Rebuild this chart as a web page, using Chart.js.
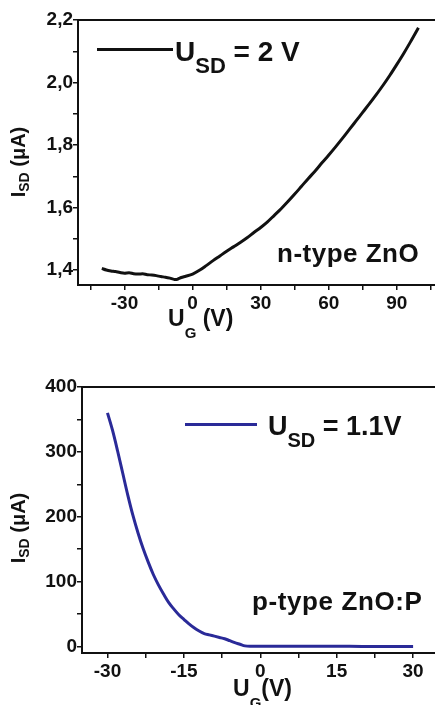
<!DOCTYPE html>
<html>
<head>
<meta charset="utf-8">
<script src="https://cdn.jsdelivr.net/npm/chart.js@4.4.1/dist/chart.umd.min.js"></script>
<style>
    body { margin: 0; background: #fff; }
    #wrap { position: relative; width: 435px; height: 705px; overflow: hidden; background: #fff; }
    canvas { position: absolute; left: 0; }
    .txt { position: absolute; font-family: "Liberation Sans", Arial, sans-serif; font-weight: bold; color: #111; line-height: 1; white-space: nowrap; }
    .sub { position: relative; }
    .key { position: absolute; }
    .rot { transform: translate(-50%, -50%) rotate(-90deg); }
</style>
</head>
<body>
<div id="wrap">
    <canvas id="chartTop" width="435" height="350" style="top:0"></canvas>
    <canvas id="chartBottom" width="435" height="355" style="top:350px"></canvas>

    <!-- panel arriba: n-type -->
    <div class="key" style="left:97px; top:48px; width:76px; height:3px; background:#111"></div>
    <div class="txt" style="left:175px; top:38px; font-size:28px">U<span class="sub" style="font-size:22px; top:12px">SD</span> = 2 V</div>
    <div class="txt" style="left:277px; top:240px; font-size:26px; letter-spacing:0.5px">n-type ZnO</div>
    <div class="txt" style="left:168px; top:307px; font-size:23px">U<span class="sub" style="font-size:15px; top:12px">G</span>&nbsp;(V)</div>
    <div class="txt rot" style="left:18px; top:162px; font-size:20px">I<span class="sub" style="font-size:14px; top:4px">SD</span> (μA)</div>

    <!-- panel abajo: p-type -->
    <div class="key" style="left:185px; top:423px; width:72px; height:3px; background:#2a2a98"></div>
    <div class="txt" style="left:268px; top:413px; font-size:27px">U<span class="sub" style="font-size:20px; top:12px">SD</span> = 1.1V</div>
    <div class="txt" style="left:252px; top:588px; font-size:26px; letter-spacing:0.6px">p-type ZnO:P</div>
    <div class="txt" style="left:233px; top:677px; font-size:23px">U<span class="sub" style="font-size:15px; top:12px">G</span>(V)</div>
    <div class="txt rot" style="left:18px; top:528px; font-size:20px">I<span class="sub" style="font-size:14px; top:4px">SD</span> (μA)</div>
</div>

<script>
// n-type ZnO, U_SD = 2 V
const ugTop = [-40, -38, -36, -34, -32, -30, -28, -26, -24, -22, -20, -18, -16, -14, -12, -10, -8, -7, -6, -5, -3,
    0, 3, 6, 9, 12, 15, 18, 21, 24, 27, 30, 33, 36, 39, 42, 45, 48, 51, 54, 57, 60, 63, 66, 69, 72, 75, 78, 81,
    84, 87, 90, 93, 96, 99.5];
const isdTop = [1.405, 1.400, 1.397, 1.395, 1.392, 1.390, 1.391, 1.388, 1.387, 1.388, 1.385, 1.384, 1.382, 1.379,
    1.377, 1.374, 1.370, 1.370, 1.373, 1.376, 1.380,
    1.387, 1.399, 1.414, 1.430, 1.445, 1.460, 1.474, 1.488, 1.503, 1.520, 1.536, 1.554, 1.575, 1.596, 1.619,
    1.643, 1.668, 1.693, 1.717, 1.743, 1.768, 1.794, 1.821, 1.849, 1.877, 1.905, 1.933, 1.962, 1.992, 2.024,
    2.058, 2.093, 2.130, 2.175];
const xTicksTop = [-45, -30, -15, 0, 15, 30, 45, 60, 75, 90, 105];
const xLabelsTop = [-30, 0, 30, 60, 90];
const yTicksTop = [1.4, 1.5, 1.6, 1.7, 1.8, 1.9, 2.0, 2.1, 2.2];
const yLabelsTop = [1.4, 1.6, 1.8, 2.0, 2.2];

// p-type ZnO:P, U_SD = 1.1 V
const ugBottom = [-30, -29, -28, -27, -26, -25, -24, -23, -22, -21, -20, -19, -18, -17, -16, -15, -14, -13, -12,
    -11, -10, -9, -8, -7, -6, -5, -4, -3, -2, 0, 5, 10, 15, 20, 25, 30];
const isdBottom = [360, 333, 301, 267, 233, 202, 175, 151, 130, 111, 95, 81, 68, 58, 49, 42, 35, 29, 24,
    20, 18, 16, 14, 12, 9, 6, 3.5, 1, 0.5, 0.5, 0.3, 0.3, 0.3, 0.2, 0.2, 0.2];
const xTicksBottom = [-30, -22.5, -15, -7.5, 0, 7.5, 15, 22.5, 30];
const xLabelsBottom = [-30, -15, 0, 15, 30];
const yTicksBottom = [0, 50, 100, 150, 200, 250, 300, 350, 400];
const yLabelsBottom = [0, 100, 200, 300, 400];

const tickFont = { family: "'Liberation Sans', Arial, sans-serif", weight: 'bold', size: 19 };

function hasLabel(list, v) {
    return list.some(function (l) { return Math.abs(l - v) < 1e-6; });
}

function axis(min, max, tickValues, labels, fmt, size, isX) {
    return {
        type: 'linear',
        min: min,
        max: max,
        afterBuildTicks: function (scale) {
            scale.ticks = tickValues.map(function (v) { return { value: v }; });
        },
        afterFit: function (scale) {
            if (isX) scale.height = size; else scale.width = size;
        },
        grid: { display: true, drawOnChartArea: false, drawTicks: true, tickLength: 5, color: '#111', lineWidth: 1.5 },
        border: { display: true, color: '#111', width: 2 },
        ticks: {
            color: '#111',
            font: tickFont,
            padding: isX ? 2 : 0,
            maxRotation: 0,
            autoSkip: false,
            callback: function (value) {
                return hasLabel(labels, value) ? fmt(value) : '';
            }
        }
    };
}

// linea de arriba del marco
function frameTop() {
    return {
        type: 'linear',
        position: 'top',
        grid: { display: false },
        ticks: { display: false },
        border: { display: true, color: '#111', width: 2 },
        afterFit: function (scale) { scale.height = 0; }
    };
}

function makeChart(id, xs, ys, color, xAxis, yAxis, padTop) {
    return new Chart(document.getElementById(id), {
        type: 'line',
        data: {
            datasets: [{
                data: xs.map(function (x, i) { return { x: x, y: ys[i] }; }),
                borderColor: color,
                borderWidth: 3,
                pointRadius: 0,
                fill: false,
                cubicInterpolationMode: 'monotone'
            }]
        },
        options: {
            responsive: false,
            animation: false,
            devicePixelRatio: 1,
            layout: { padding: { top: padTop, left: 0, right: 0, bottom: 0 } },
            plugins: { legend: { display: false }, tooltip: { enabled: false } },
            scales: { x: xAxis, y: yAxis, x2: frameTop() }
        }
    });
}

const commaFmt = function (v) { return v.toFixed(1).replace('.', ','); };
const plainFmt = function (v) { return String(v); };

makeChart('chartTop', ugTop, isdTop, '#111',
    axis(-50.5, 106.8, xTicksTop, xLabelsTop, plainFmt, 65, true),
    axis(1.352, 2.2, yTicksTop, yLabelsTop, commaFmt, 78, false),
    20);

makeChart('chartBottom', ugBottom, isdBottom, '#2a2a98',
    axis(-35, 34.3, xTicksBottom, xLabelsBottom, plainFmt, 52, true),
    axis(-10, 400, yTicksBottom, yLabelsBottom, plainFmt, 82, false),
    37);
</script>
</body>
</html>
